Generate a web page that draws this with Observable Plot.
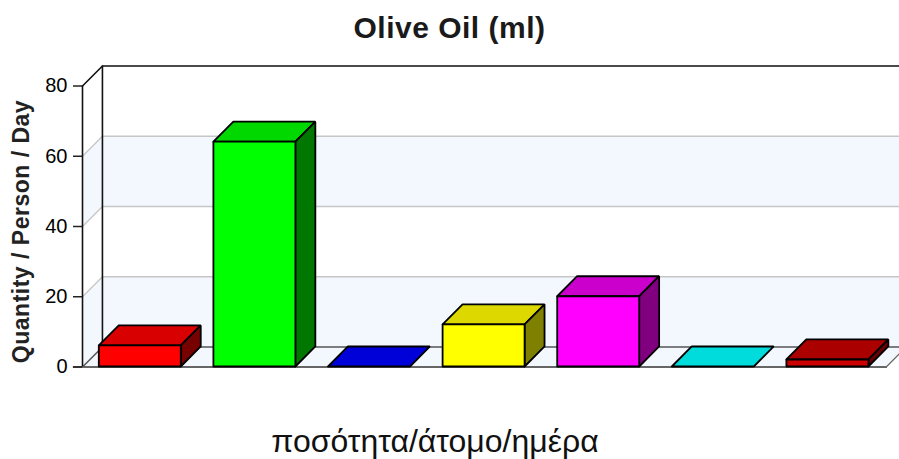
<!DOCTYPE html>
<html>
<head>
<meta charset="utf-8">
<script src="https://cdn.jsdelivr.net/npm/d3@7"></script>
<script src="https://cdn.jsdelivr.net/npm/@observablehq/plot@0.6"></script>
<style>
  html, body { margin: 0; padding: 0; background: #fff; }
  body { width: 899px; height: 459px; overflow: hidden; font-family: "Liberation Sans", Arial, sans-serif; color: #000; }
  #title { height: 50px; line-height: 55px; text-align: center; font-size: 30px; font-weight: bold; letter-spacing: 0.5px; color: #1a1a1a; }
  #caption { width: 870px; height: 59px; line-height: 83px; text-align: center; font-size: 32px; color: #111; }
  #chart svg { display: block; }
  .y-title text { letter-spacing: 0.5px; }
</style>
</head>
<body>
<div id="title">Olive Oil (ml)</div>
<div id="chart"></div>
<div id="caption">ποσότητα/άτομο/ημέρα</div>
<script>
// Daily olive oil quantity per person, one box per category.
const categories = ["A", "B", "C", "D", "E", "F", "G"];
const quantities = [6, 64, 0, 12, 20, 0, 2];
const frontColors = ["#ff0000", "#00ff00", "#0000ff", "#ffff00", "#ff00ff", "#00ffff", "#cc0000"];
const topColors = ["#d80000", "#00d800", "#0000d8", "#dcd800", "#cc00cc", "#00dcdc", "#aa0000"];
const sideColors = ["#770000", "#007700", "#000077", "#808000", "#800080", "#007777", "#660000"];
const yTicks = [0, 20, 40, 60, 80];

// Extrusion of the pseudo-3D view, in axis units.
const depthX = 0.174;
const depthY = 5.7;
const barWidth = 0.7155;
const xMax = categories.length;
const xFloorEnd = xMax + 0.013;
const yMax = 80;

const wallBlue = "#f3f7fe";
const gridGray = "#c6c6c6";

const polys = [];
const addPoly = (id, fill, pts) => {
  pts.forEach(([x, y]) => polys.push({id, fill, x, y}));
};

// Shaded wall bands, plus the floor that shares their tint.
const wallPolys = [];
const addWall = (id, pts) => pts.forEach(([x, y]) => wallPolys.push({id, x, y}));
[[0, 20], [40, 60]].forEach(([a, b]) => {
  addWall(`back${a}`, [[depthX, a + depthY], [xFloorEnd + depthX, a + depthY], [xFloorEnd + depthX, b + depthY], [depthX, b + depthY]]);
  addWall(`left${a}`, [[0, a], [depthX, a + depthY], [depthX, b + depthY], [0, b]]);
});
addWall("floor", [[0, 0], [xFloorEnd, 0], [xFloorEnd + depthX, depthY], [depthX, depthY]]);

// Gridlines run along the side wall and then across the back wall.
const gridPts = [];
yTicks.slice(1, -1).forEach(v => {
  [[0, v], [depthX, v + depthY], [xFloorEnd + depthX, v + depthY]].forEach(([x, y]) => gridPts.push({id: v, x, y}));
});

// Three visible faces for each box.
categories.forEach((c, i) => {
  const v = quantities[i];
  const x0 = i + 0.5 - barWidth / 2;
  const x1 = x0 + barWidth;
  addPoly(`${c}-top`, topColors[i], [[x0, v], [x1, v], [x1 + depthX, v + depthY], [x0 + depthX, v + depthY], [x0, v]]);
  if (v > 0) {
    addPoly(`${c}-side`, sideColors[i], [[x1, 0], [x1 + depthX, depthY], [x1 + depthX, v + depthY], [x1, v], [x1, 0]]);
    addPoly(`${c}-front`, frontColors[i], [[x0, 0], [x1, 0], [x1, v], [x0, v], [x0, 0]]);
  }
});

const chart = Plot.plot({
  width: 899,
  height: 350,
  marginLeft: 82,
  marginRight: 14.8,
  marginTop: 35.5,
  marginBottom: 33.5,
  style: {fontFamily: "'Liberation Sans', Arial, sans-serif", background: "#fff", color: "#000"},
  x: {domain: [0, xMax], axis: null},
  y: {domain: [0, yMax], axis: null},
  color: {type: "identity"},
  marks: [
    Plot.line(wallPolys, {x: "x", y: "y", z: "id", fill: wallBlue, stroke: "none"}),
    Plot.line(gridPts, {x: "x", y: "y", z: "id", stroke: gridGray, strokeWidth: 1.3}),
    // Back wall outline and the diagonal edges that join it to the front axis.
    Plot.line([[0, yMax], [depthX, yMax + depthY], [xFloorEnd + depthX, yMax + depthY]], {stroke: "#111", strokeWidth: 1.6}),
    Plot.line([[depthX, yMax + depthY], [depthX, depthY]], {stroke: "#111", strokeWidth: 1.6}),
    Plot.line([[0, 0], [depthX, depthY], [xFloorEnd + depthX, depthY]], {stroke: "#555", strokeWidth: 1.5}),
    Plot.line([[xFloorEnd, 0], [xFloorEnd + depthX, depthY]], {stroke: "#666", strokeWidth: 1.2}),
    Plot.line([[-0.078, 0], [xFloorEnd, 0]], {stroke: "#666", strokeWidth: 1.8}),
    Plot.line(polys, {x: "x", y: "y", z: "id", fill: "fill", stroke: "#000", strokeWidth: 1.8, strokeLinejoin: "miter", dy: -0.5}),
    Plot.ruleX([0], {y1: 0, y2: yMax, stroke: "#111", strokeWidth: 1.6}),
    Plot.axisY({
      anchor: "left",
      ticks: yTicks,
      tickSize: 9,
      tickPadding: 6,
      tickFormat: d => String(d),
      fontSize: 20,
      stroke: "#222",
      strokeWidth: 1.5,
      label: null
    }),
    Plot.text(["Quantity / Person / Day"], {
      frameAnchor: "left",
      textAnchor: "middle",
      rotate: -90,
      dx: -61,
      dy: 5,
      fontSize: 23,
      fontWeight: "bold",
      fill: "#222",
      className: "y-title"
    })
  ]
});
document.getElementById("chart").appendChild(chart);
</script>
</body>
</html>
